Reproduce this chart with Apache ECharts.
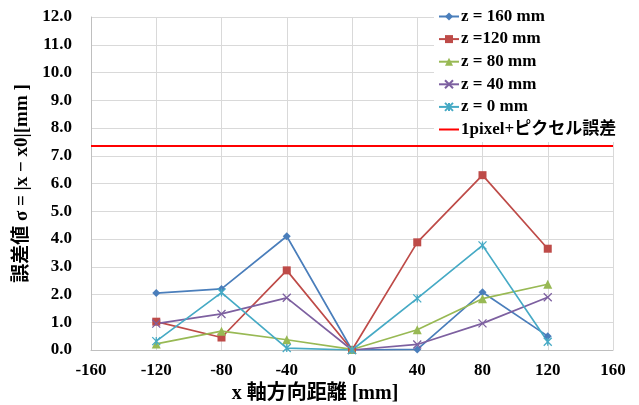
<!DOCTYPE html>
<html><head><meta charset="utf-8">
<script src="https://cdn.jsdelivr.net/npm/echarts@6/dist/echarts.min.js"></script>
<style>html,body{margin:0;padding:0;background:#fff}#c{width:639px;height:405px}</style>
</head><body><div id="c"></div>
<script>
const xValues = [-120, -80, -40, 0, 40, 80, 120];
const z160 = [2.05, 2.2, 4.1, 0.0, 0.02, 2.08, 0.5];
const z120 = [1.02, 0.45, 2.87, 0.0, 3.88, 6.3, 3.65];
const z80 = [0.22, 0.68, 0.37, 0.02, 0.73, 1.85, 2.37];
const z40 = [0.95, 1.3, 1.88, 0.0, 0.2, 0.96, 1.9];
const z0 = [0.32, 2.07, 0.07, 0.0, 1.86, 3.77, 0.3];
const limitX = [-160, 160];
const limitY = 7.35;
const seriesNames = ['z = 160 mm', 'z =120 mm', 'z = 80 mm', 'z = 40 mm', 'z = 0 mm', '1pixel+ピクセル誤差'];

const font = '"Liberation Serif","Times New Roman","Noto Sans CJK JP",serif';
const xPath = 'path://M0,0L10,10M10,0L0,10';
const astPath = 'path://M0,0L10,10M10,0L0,10M5,0L5,10';
function pts(arr){ return xValues.map((x,i)=>[x,arr[i]]); }
function mk(name, arr, color, symbol, size){
  return {
    name, type:'line', data: pts(arr), symbol, symbolSize:size,
    lineStyle:{color, width:1.7}, itemStyle:{color, borderColor:color, borderWidth: (symbol.startsWith('path')?1.3:0)},
    emphasis:{disabled:true}, z:3
  };
}
const chart = echarts.init(document.getElementById('c'));
chart.setOption({
  animation:false,
  backgroundColor:'#fff',
  grid:{left:91, top:17, width:522, height:333, containLabel:false, outerBoundsMode:'none'},
  xAxis:{type:'value', min:-160, max:160, interval:40,
    axisLine:{lineStyle:{color:'#bfbfbf'}}, axisTick:{show:false},
    axisLabel:{color:'#000', fontFamily:font, fontWeight:'bold', fontSize:17, margin:12},
    splitLine:{lineStyle:{color:'#d9d9d9'}},
    name:'x 軸方向距離 [mm]', nameLocation:'middle', nameGap:33,
    nameTextStyle:{color:'#000', fontFamily:font, fontWeight:'bold', fontSize:20, padding:[0,74,0,0]}},
  yAxis:{type:'value', min:0, max:12, interval:1,
    axisLine:{show:true, onZero:false, lineStyle:{color:'#bfbfbf'}}, axisTick:{show:false},
    axisLabel:{color:'#000', fontFamily:font, fontWeight:'bold', fontSize:17, margin:19, formatter:v=>v.toFixed(1)},
    splitLine:{lineStyle:{color:'#d9d9d9'}},
    name:'誤差値 σ = |x − x0|[mm ]', nameLocation:'middle', nameGap:57,
    nameTextStyle:{color:'#000', fontFamily:font, fontWeight:'bold', fontSize:19}},
  legend:{orient:'vertical', left:434, top:6, itemGap:5.6, itemWidth:20, itemHeight:10,
    backgroundColor:'#fff', padding:[2,4,4,4],
    textStyle:{color:'#000', fontFamily:font, fontWeight:'bold', fontSize:17, lineHeight:17, padding:[0,0,0,-3]},
    data:[seriesNames[0],seriesNames[1],seriesNames[2],seriesNames[3],seriesNames[4],
      {name:seriesNames[5], itemStyle:{opacity:0}}]},
  series:[
    mk(seriesNames[0], z160, '#4a7ebb', 'diamond', 8),
    mk(seriesNames[1], z120, '#be4b48', 'rect', 8),
    mk(seriesNames[2], z80, '#98b954', 'triangle', 9),
    mk(seriesNames[3], z40, '#7d60a0', xPath, 8),
    mk(seriesNames[4], z0, '#46aac5', astPath, 8),
    {name:seriesNames[5], type:'line', data: limitX.map(x=>[x,limitY]), symbol:'none',
     lineStyle:{color:'#ff0000', width:2}, itemStyle:{color:'#ff0000'}, z:2, emphasis:{disabled:true}}
  ]
});
</script></body></html>
